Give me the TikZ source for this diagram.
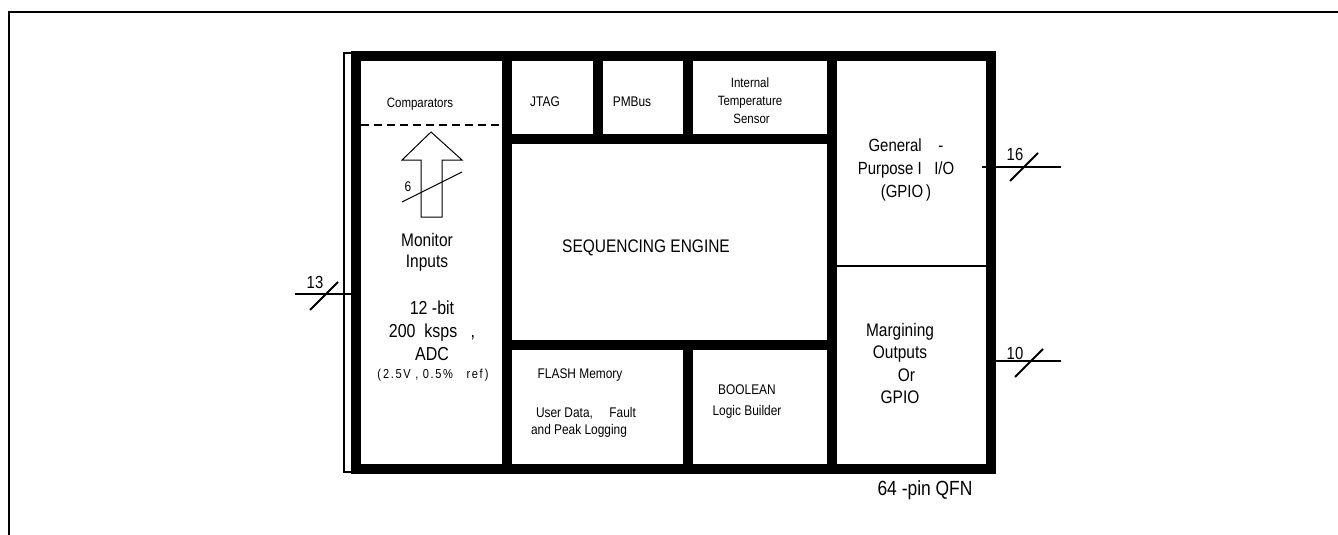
\documentclass[tikz,border=0pt]{standalone}
\usepackage{fontspec}
\setmainfont[FakeStretch=0.85]{Liberation Sans}
\newcommand\fsz[2]{\fontsize{#1}{#2}\selectfont}
\begin{document}
\begin{tikzpicture}[x=1pt,y=-1pt,
  wall/.style={line width=10pt, line join=miter},
  thinline/.style={line width=1.5pt},
  busline/.style={line width=2pt},
  txt/.style={inner sep=0pt, align=center, text=black}]
\useasboundingbox (0,0) rectangle (1338,535);
% page frame
\draw[line width=2pt] (1338,12) -- (9,12) -- (9,535);
% package
\draw[wall] (356,56) rectangle (991,469);
\draw[wall] (507,56) -- (507,469);
\draw[wall] (832,56) -- (832,469);
\draw[wall] (507,139) -- (832,139);
\draw[wall] (507,345) -- (832,345);
\draw[wall] (598,56) -- (598,139);
\draw[wall] (688,56) -- (688,139);
\draw[wall] (688,345) -- (688,469);
\draw[line width=2pt] (837,266) -- (986,266);
% left bracket
\draw[thinline] (351,53) -- (344,53) -- (344,472) -- (351,472);
% dashed comparator line
\draw[line width=2.8pt, dash pattern=on 8pt off 5pt] (361,125) -- (502,125);
% hollow arrow
\draw[line width=1pt] (431,132) -- (462,160) -- (442,160) -- (442,217) -- (421,217) -- (421,160) -- (402,160) -- cycle;
\coordinate (s6a) at (402,202); \coordinate (s6b) at (462,172);
\draw[line width=1pt] (s6a) -- (s6b);
\node[txt, font=\fsz{14}{16}] (l6) at (408,187) {6};
% texts
\node[txt, font=\fsz{13.5}{16}] (comp) at (420,104) {Comparators};
\node[txt, font=\fsz{18.2}{21}] (mon) at (427,252) {Monitor\\Inputs};
\node[txt, font=\fsz{18.8}{23}] (adc) at (432,331) {12 -bit\\200\ \ ksps\ \ \ ,\\ADC};
\node[txt, font=\fsz{13}{15}\addfontfeature{LetterSpace=12}] (ref) at (433,375) {(\,2.5V , 0.5\%\ \ \ ref\,)};
\node[txt, font=\fsz{14}{16}] (jtag) at (545,102) {JTAG};
\node[txt, font=\fsz{14}{16}] (pmbus) at (632,102) {PMBus};
\node[txt, font=\fsz{13.5}{18}] (temp) at (750,101) {Internal\\Temperature\\\ Sensor};
\node[txt, font=\fsz{18.2}{20}] (seq) at (646,248) {SEQUENCING ENGINE};
\node[txt, font=\fsz{14}{16}] (flash) at (580,375) {FLASH Memory};
\node[txt, font=\fsz{14}{16}] (user) at (586,413) {User Data,\ \ \ \ \ Fault};
\node[txt, font=\fsz{14}{16}] (peak) at (579,431) {and Peak Logging};
\node[txt, font=\fsz{14}{21}] (bool) at (747,402) {BOOLEAN\\Logic Builder};
\node[txt, font=\fsz{17.6}{23}] (gpio) at (906,170) {General\ \ \ \ -\\Purpose I\ \ \ I/O\\(GPIO\,)};
\node[txt, font=\fsz{18.2}{22.3}] (marg) at (900,363.5) {Margining\\Outputs\\\ \ \ Or\\GPIO};
\node[txt, font=\fsz{20.5}{22}] (qfn) at (925,490) {64 -pin QFN};
% buses
\coordinate (b13a) at (295,294); \coordinate (b13b) at (351,294);
\draw[busline] (b13a) -- (b13b);
\coordinate (s13a) at (310,310); \coordinate (s13b) at (338,282);
\draw[busline] (s13a) -- (s13b);
\node[txt, font=\fsz{17.5}{19}] (l13) at (315,282) {13};
\coordinate (b16a) at (982,167); \coordinate (b16b) at (1061,167);
\draw[busline] (b16a) -- (b16b);
\coordinate (s16a) at (1010,181); \coordinate (s16b) at (1038,153);
\draw[busline] (s16a) -- (s16b);
\node[txt, font=\fsz{17.5}{19}] (l16) at (1015,154) {16};
\coordinate (b10a) at (996,361); \coordinate (b10b) at (1061,361);
\draw[busline] (b10a) -- (b10b);
\coordinate (s10a) at (1015,377); \coordinate (s10b) at (1043,349);
\draw[busline] (s10a) -- (s10b);
\node[txt, font=\fsz{17.5}{19}] (l10) at (1015,353) {10};
\end{tikzpicture}
\end{document}
